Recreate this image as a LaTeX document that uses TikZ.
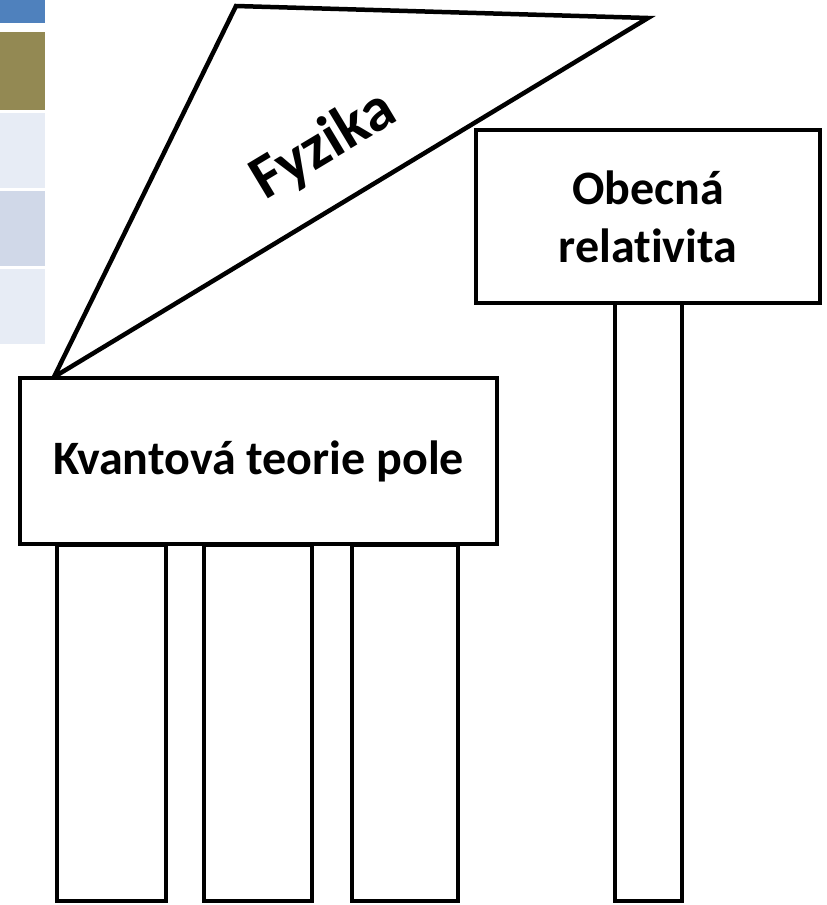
\documentclass[tikz,border=0pt]{standalone}
\usepackage{fontspec}
\setmainfont{Carlito}[Ligatures = NoCommon]
\usepackage{tikz}
\usetikzlibrary{positioning}

\definecolor{tabblue}{HTML}{4F81BD}
\definecolor{tabolive}{HTML}{938953}
\definecolor{tablight}{HTML}{E7ECF5}
\definecolor{tabmid}{HTML}{D0D8E8}

\tikzset{
    pillar/.style = {draw, line width = 4.5pt, fill = white},
    label/.style = {font = \fontsize{48}{58}\selectfont\bfseries, align = center}
}

\begin{document}
\begin{tikzpicture}[x = 1pt, y = -1pt]
    \useasboundingbox (0, 0) rectangle (827, 905);

    %% table strip on the left
    \fill[tabblue] (0, 0) rectangle (45, 23);
    \fill[tabolive] (0, 32) rectangle (45, 110);
    \fill[tablight] (0, 113) rectangle (45, 188);
    \fill[tabmid] (0, 191) rectangle (45, 266);
    \fill[tablight] (0, 269) rectangle (45, 344);

    %% roof
    \coordinate (roofa) at (54, 377);
    \coordinate (roofb) at (236, 6);
    \coordinate (roofc) at (648, 18);
    \draw[line width = 4.5pt, line join = miter] (roofa) -- (roofb) -- (roofc) -- cycle;
    \node[label, font = \fontsize{62}{70}\selectfont\bfseries, rotate = 31]
        (fyzika) at (324, 146) {Fyzika};

    %% pillars
    \draw[pillar] (57, 545) rectangle (166, 901);
    \draw[pillar] (204, 545) rectangle (312, 901);
    \draw[pillar] (352, 545) rectangle (458, 901);
    \draw[pillar] (615, 303) rectangle (682, 901);

    %% boxes
    \node[pillar, label, minimum width = 477pt, minimum height = 166pt]
        (qft) at (258.5, 461) {Kvantová teorie pole};
    \node[pillar, label, minimum width = 344pt, minimum height = 173pt]
        (gr) at (648, 216.5) {Obecná\\relativita};
\end{tikzpicture}
\end{document}
